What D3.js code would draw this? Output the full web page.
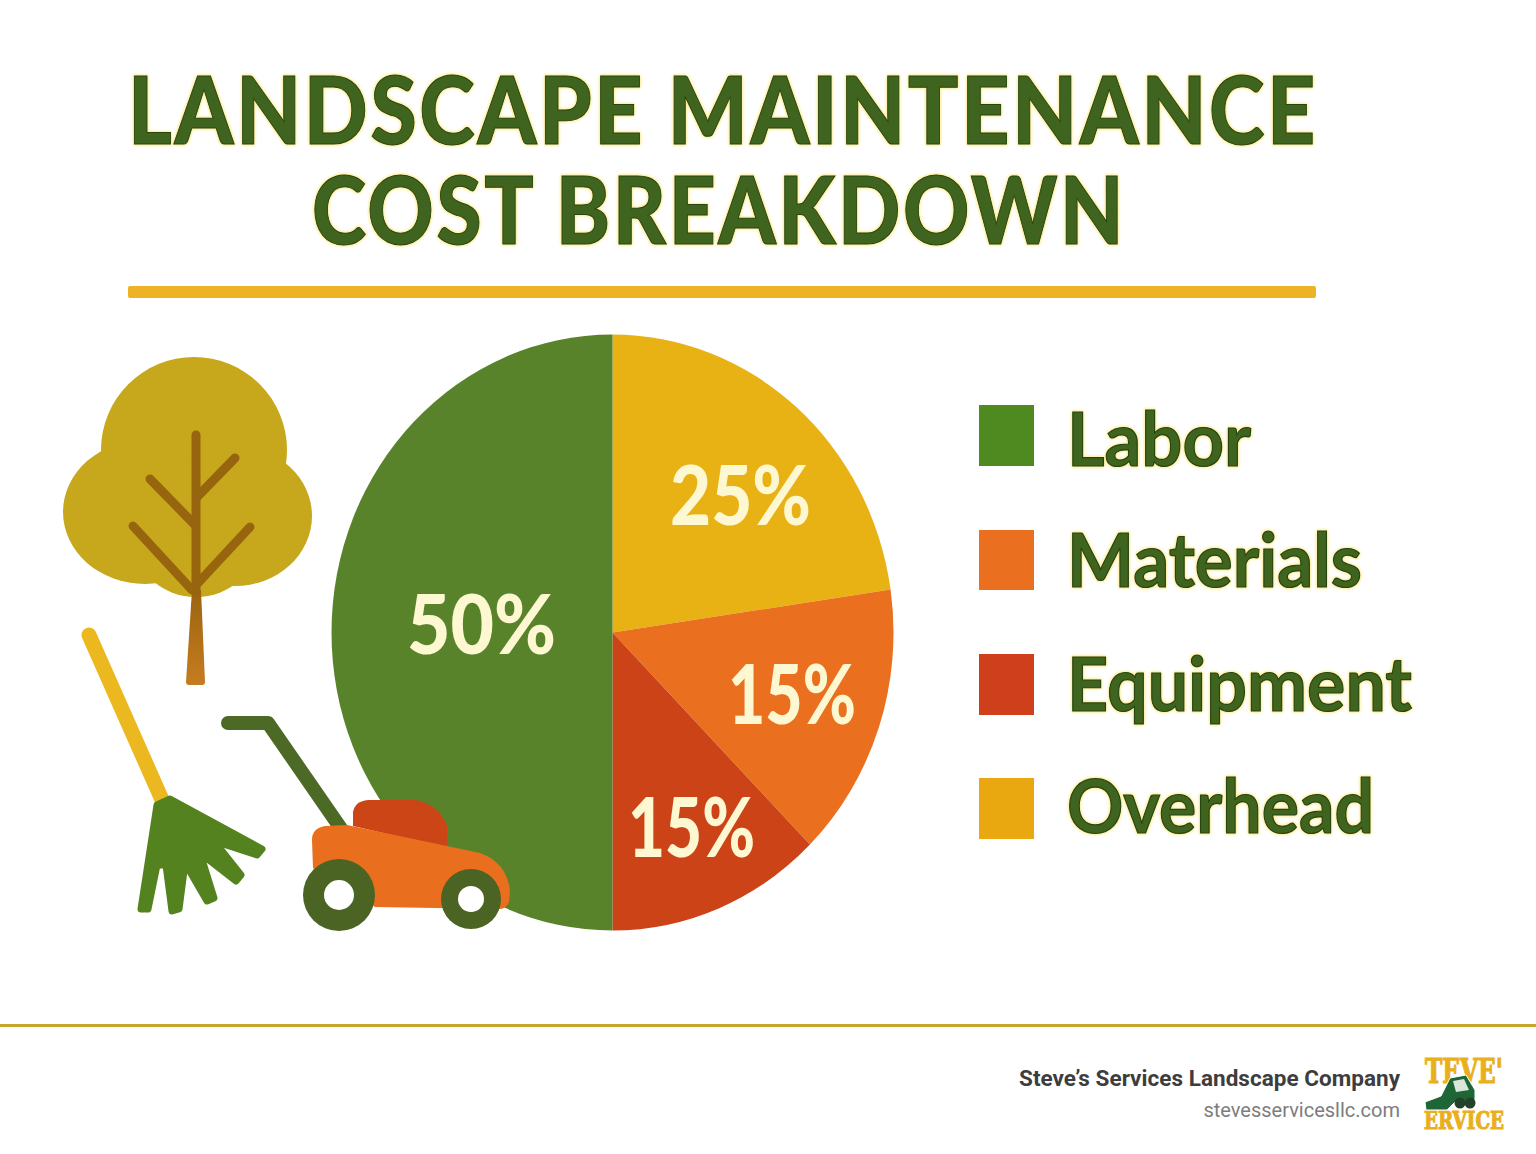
<!DOCTYPE html>
<html><head><meta charset="utf-8">
<script src="https://cdn.jsdelivr.net/npm/d3@7"></script>
<style>
html,body{margin:0;padding:0;background:#fff}
svg{display:block}
.halo{filter:drop-shadow(0 0 1.5px #ffe98a) drop-shadow(0 0 1px #ffe98a)}
</style></head><body>
<svg id="c" width="1536" height="1154"></svg>
<script>
const categories = ["Overhead","Materials","Equipment","Labor"];
const drawnShares = [22.7,14.9,12.4,50];
const valueLabels = ["25%","15%","15%","50%"];
const sliceColors = ["#e8b114","#ea701f","#cc4318","#58832a"];
const legendOrder = ["Labor","Materials","Equipment","Overhead"];
const legendColors = ["#4f8a20","#ea701f","#cf3f1b","#e9a80f"];
const titleLines = ["LANDSCAPE MAINTENANCE","COST BREAKDOWN"];

const svg = d3.select("#c");
const defs = svg.append("defs");
const grad = defs.append("linearGradient").attr("id","trunk").attr("x1",0).attr("x2",0).attr("y1",0).attr("y2",1);
grad.append("stop").attr("offset",0).attr("stop-color","#9a640f");
grad.append("stop").attr("offset",1).attr("stop-color","#c67c20");

// layout
const titleLayout = [{x:128,y:144,w:1190},{x:312,y:244,w:814}];
const labelLayout = [{x:670,y:525,w:141},{x:728,y:724,w:128},{x:628,y:857,w:127},{x:407,y:654,w:149}];
const legendY = [405,530,654,778], legendH = [61,60,61,61];
const legendBase = [466,587,711,833], legendW = [184,295,345,307];
const FONT = "Lato,'Noto Sans',sans-serif";

function fit(sel,w){return sel.attr("textLength",w).attr("lengthAdjust","spacingAndGlyphs");}

// title
svg.append("g").attr("class","halo").selectAll("text").data(titleLines).join("text")
  .attr("x",(d,i)=>titleLayout[i].x).attr("y",(d,i)=>titleLayout[i].y)
  .attr("font-family",FONT).attr("font-weight",900).attr("font-size",94)
  .attr("letter-spacing",3)
  .attr("fill","#3f6420").attr("stroke","#27450f").attr("stroke-width",1)
  .text(d=>d).each(function(d,i){fit(d3.select(this),titleLayout[i].w);});

svg.append("rect").attr("x",128).attr("y",286).attr("width",1188).attr("height",12).attr("rx",2).attr("fill","#edb324");

// pie
const R = 298;
const pieG = svg.append("g").attr("transform",`translate(612.5,632.5) scale(${281/R},1)`);
const pie = d3.pie().sort(null).value(d=>d)(drawnShares);
const arc = d3.arc().innerRadius(0).outerRadius(R);
pieG.selectAll("path").data(pie).join("path").attr("d",arc).attr("fill",(d,i)=>sliceColors[i]);

svg.append("g").selectAll("text").data(valueLabels).join("text")
  .attr("x",(d,i)=>labelLayout[i].x).attr("y",(d,i)=>labelLayout[i].y)
  .attr("font-family",FONT).attr("font-weight",900).attr("font-size",81)
  .attr("fill","#fdf7d2").text(d=>d)
  .each(function(d,i){fit(d3.select(this),labelLayout[i].w);});

// legend
const lg = svg.append("g");
lg.selectAll("rect").data(legendOrder).join("rect")
  .attr("x",979).attr("width",55).attr("y",(d,i)=>legendY[i]).attr("height",(d,i)=>legendH[i])
  .attr("fill",(d,i)=>legendColors[i]);
lg.append("g").attr("class","halo").selectAll("text").data(legendOrder).join("text")
  .attr("x",1067).attr("y",(d,i)=>legendBase[i])
  .attr("font-family",FONT).attr("font-weight",700).attr("font-size",75)
  .attr("fill","#3f6420").attr("stroke","#27450f").attr("stroke-width",1.2)
  .text(d=>d).each(function(d,i){fit(d3.select(this),legendW[i]);});

// tree
const tree = svg.append("g");
[[194,450,93,93],[145,512,82,72],[235,516,77,70],[196,540,62,57]].forEach(e=>
  tree.append("ellipse").attr("cx",e[0]).attr("cy",e[1]).attr("rx",e[2]).attr("ry",e[3]).attr("fill","#c7a81c"));
const line = d3.line();
tree.append("path").attr("d","M192,590 L201,590 L205,682 Q205,685 202,685 L189,685 Q186,685 186,682 Z").attr("fill","url(#trunk)");
[[[196,435],[196,592]],[[197,497],[235,458]],[[150,479],[195,525]],[[133,526],[192,590]],[[250,527],[198,583]]].forEach(p=>
  tree.append("path").attr("d",line(p)).attr("fill","none").attr("stroke","#98650f").attr("stroke-width",9).attr("stroke-linecap","round"));

// rake
svg.append("path").attr("d",line([[89,635],[163,802]])).attr("stroke","#ecb81f").attr("stroke-width",15).attr("stroke-linecap","round").attr("fill","none");
const rakeHead = [[157,805],[170,799],[262,849],[257,855],[214,841],[241,875],[236,881],[200,853],[214,898],[207,901],[185,863],[179,909],[172,911],[166,865],[157,865],[148,909],[141,909]];
svg.append("path").attr("d",line(rakeHead)+"Z").attr("fill","#53821f").attr("stroke","#53821f").attr("stroke-width",7).attr("stroke-linejoin","round");

// mower
const m = svg.append("g");
m.append("path").attr("d","M228,723 L268,723 L342,830").attr("fill","none").attr("stroke","#4c6a26").attr("stroke-width",14).attr("stroke-linecap","round").attr("stroke-linejoin","round");
m.append("path").attr("d","M353,826 L353,812 Q355,801 368,800 L415,800 Q437,803 447,825 L447,848 Z").attr("fill","#cc4517");
m.append("path").attr("d","M312,840 Q312,828 325,826 L347,825 L480,853 Q506,862 510,890 L509,902 Q506,910 497,909 L375,907 L313,868 Z").attr("fill","#e96f1e");
[[339,895,36,15],[471,899,30,13]].forEach(w=>{
  m.append("circle").attr("cx",w[0]).attr("cy",w[1]).attr("r",w[2]).attr("fill","#4b6323");
  m.append("circle").attr("cx",w[0]).attr("cy",w[1]).attr("r",w[3]).attr("fill","#fff");
});

// footer
svg.append("rect").attr("x",0).attr("y",1024).attr("width",1536).attr("height",3).attr("fill","#c4a82e");
svg.append("text").attr("x",1019).attr("y",1086).attr("font-family","Roboto,sans-serif")
  .attr("font-weight",700).attr("font-size",22.5).attr("fill","#3d3d3d").attr("textLength",381).text("Steve’s Services Landscape Company");
svg.append("text").attr("x",1400).attr("y",1117).attr("text-anchor","end").attr("font-family","Roboto,sans-serif")
  .attr("font-size",20).attr("fill","#7d7d7d").text("stevesservicesllc.com");

// logo
const logo = svg.append("g");
logo.append("rect").attr("x",1424).attr("y",1056).attr("width",80).attr("height",74).attr("fill","#fff");
const logoText = logo.append("g").attr("font-family","'DejaVu Serif',serif").attr("font-weight",900)
  .attr("fill","#e9b01c").attr("stroke","#e9b01c").attr("stroke-width",1.2);
logoText.append("text").attr("x",1425).attr("y",1083).attr("font-size",33)
  .attr("textLength",78).attr("lengthAdjust","spacingAndGlyphs").text("TEVE'");
logoText.append("text").attr("x",1424).attr("y",1129).attr("font-size",25)
  .attr("textLength",80).attr("lengthAdjust","spacingAndGlyphs").text("ERVICE");
logo.append("path").attr("d","M1450,1078 L1466,1075 L1475,1090 L1475,1100 L1455,1102 L1447,1110 L1426,1110 L1425,1102 L1441,1096 Z").attr("fill","#1f6636").attr("stroke","#fff").attr("stroke-width",1);
logo.append("path").attr("d","M1453,1081 L1464,1079 L1469,1090 L1456,1092 Z").attr("fill","#d9e6da");
logo.append("circle").attr("cx",1460).attr("cy",1103).attr("r",5.5).attr("fill","#24402a");
logo.append("circle").attr("cx",1470).attr("cy",1103).attr("r",5.5).attr("fill","#24402a");
</script></body></html>
